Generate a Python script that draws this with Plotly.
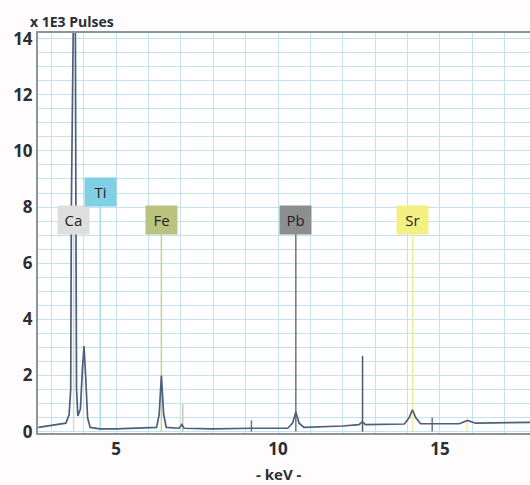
import plotly.graph_objects as go

# Spectrum polyline (keV, x1000 pulses)
spec_kev = [2.60, 2.90, 3.20, 3.45, 3.55, 3.60, 3.62, 3.65, 3.73, 3.76, 3.78, 3.82,
            3.90, 3.96, 4.01, 4.06, 4.12, 4.20, 4.50, 5.00, 6.00, 6.25, 6.33, 6.40,
            6.47, 6.55, 6.95, 7.03, 7.10, 8.00, 9.20, 10.30, 10.45, 10.55, 10.65,
            10.80, 12.00, 12.50, 12.60, 12.70, 13.90, 14.05, 14.15, 14.25, 14.40,
            15.60, 15.85, 16.10, 17.80]
spec_counts = [0.15, 0.20, 0.25, 0.30, 0.60, 1.50, 8.00, 20.0, 20.0, 8.00, 1.50, 0.56,
               0.80, 2.20, 3.05, 2.00, 0.50, 0.15, 0.10, 0.10, 0.12, 0.15, 0.60, 2.00,
               0.60, 0.15, 0.12, 0.25, 0.12, 0.10, 0.12, 0.12, 0.30, 0.70, 0.30,
               0.15, 0.20, 0.25, 0.35, 0.25, 0.27, 0.50, 0.78, 0.50, 0.28,
               0.28, 0.40, 0.30, 0.33]

# Element marker lines
line_kev = [3.69, 4.51, 6.40, 7.06, 9.18, 10.55, 12.61, 14.76, 14.16, 15.83]
line_top = [7.1, 8.1, 7.1, 1.0, 0.4, 7.1, 2.7, 0.5, 7.1, 0.4]
line_color = ["#d6d6d6", "#a9dfeb", "#c9cf93", "#c8cbb0", "#6f747c", "#6f747c",
              "#4f5866", "#6f747c", "#f1ee9a", "#f1ee9a"]

# Element labels
lab_text = ["Ca", "Ti", "Fe", "Pb", "Sr"]
lab_kev = [3.69, 4.51, 6.40, 10.55, 14.16]
lab_y = [7.55, 8.55, 7.55, 7.55, 7.55]
lab_bg = ["#dedede", "#7fd0e4", "#b9c27f", "#8c8e90", "#f3ef80"]

y_ticks = [0, 2, 4, 6, 8, 10, 12, 14]
x_ticks = [5, 10, 15]

fig = go.Figure()

for k, t, c in zip(line_kev, line_top, line_color):
    fig.add_trace(go.Scatter(x=[k, k], y=[0, t], mode="lines",
                             line=dict(color=c, width=1.5),
                             showlegend=False, hoverinfo="skip"))

fig.add_trace(go.Scatter(x=spec_kev, y=spec_counts, mode="lines",
                         line=dict(color="#4d5f7c", width=1.7),
                         showlegend=False))

for t, k, y, bg in zip(lab_text, lab_kev, lab_y, lab_bg):
    fig.add_annotation(x=k, y=y, xref="x", yref="y", text=t, showarrow=False,
                       bgcolor=bg, width=29, height=26,
                       font=dict(family="Open Sans", size=15, color="#222222"))

fig.add_annotation(x=-0.02, y=1.0, xref="paper", yref="paper", xanchor="left",
                   yanchor="bottom", text="<b>x 1E3 Pulses</b>", showarrow=False,
                   font=dict(family="Open Sans", size=14, color="#2a2e35"))
fig.add_annotation(x=0.49, y=-0.072, xref="paper", yref="paper", xanchor="center",
                   yanchor="top", text="<b>- keV -</b>", showarrow=False,
                   font=dict(family="Open Sans", size=15, color="#2a2e35"))

fig.update_layout(
    width=530, height=485,
    margin=dict(l=38, r=0, t=33, b=52),
    paper_bgcolor="#fefcfc", plot_bgcolor="#ffffff",
    xaxis=dict(range=[2.59, 17.78], tickvals=x_ticks, showgrid=True,
               gridcolor="#c3e2ee", gridwidth=1,
               minor=dict(dtick=1, tick0=0, showgrid=True, gridcolor="#c3e2ee", gridwidth=1),
               showline=True, linecolor="#8d949c", linewidth=2, mirror=True,
               zeroline=False, ticks="",
               tickfont=dict(family="Open Sans", size=17, color="#2a2e35", weight="bold")),
    yaxis=dict(range=[-0.05, 14.2], tickvals=y_ticks, showgrid=True,
               gridcolor="#c3e2ee", gridwidth=1,
               minor=dict(dtick=0.5, tick0=0, showgrid=True, gridcolor="#c3e2ee", gridwidth=1),
               showline=True, linecolor="#8d949c", linewidth=2, mirror=False,
               zeroline=False, ticks="",
               tickfont=dict(family="Open Sans", size=17, color="#2a2e35", weight="bold")),
)

fig.write_html("out.html", config={"displayModeBar": False},
               post_script="document.body.style.margin='0';document.body.style.overflow='hidden';")
